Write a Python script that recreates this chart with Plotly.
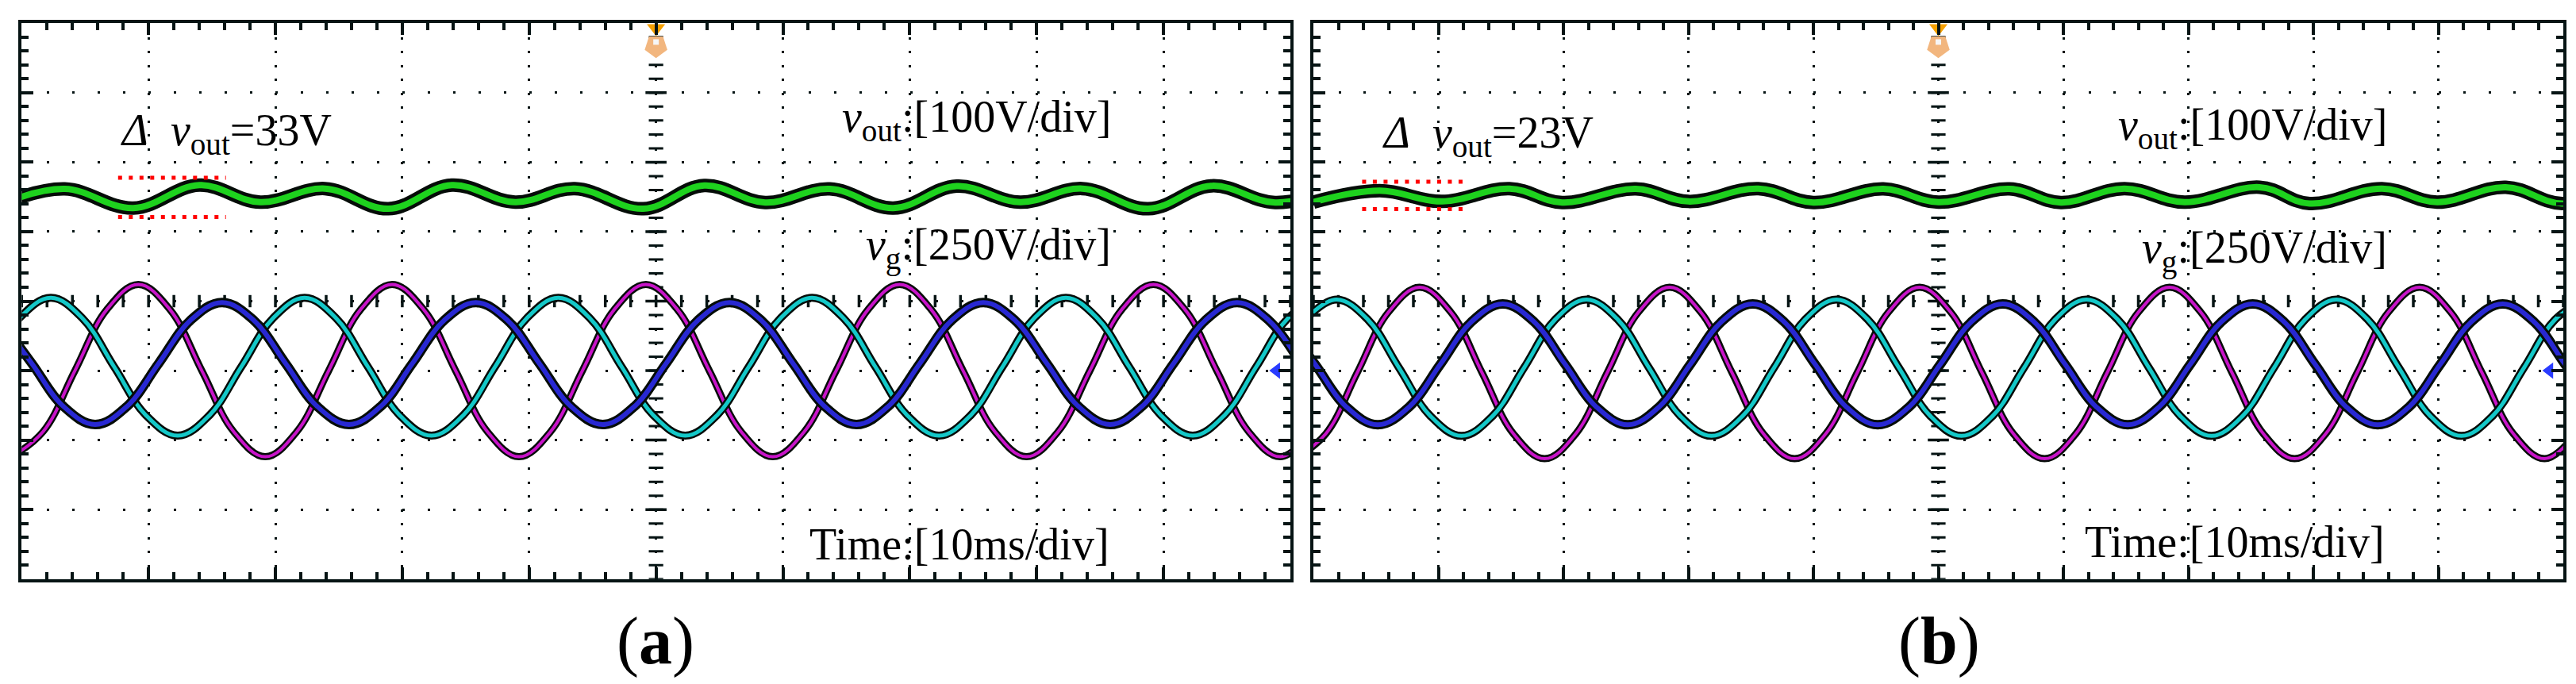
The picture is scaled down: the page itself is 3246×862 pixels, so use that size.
import numpy as np
import plotly.graph_objects as go

# scope settings
vout_scale = 100.0   # V/div
vg_scale = 250.0     # V/div
vout_level = 1.5     # screen div where the vout ripple sits
vg_ground = -1.0     # screen div of the vg channel marker (blue arrow)

# ---------------- (a) ----------------
# vout ripple [V] around its level, read at the peaks / valleys
t_vout_a = [-1.2, 3.4, 8.8, 14.0, 18.8, 23.9, 28.9, 33.9, 38.9, 43.6, 49.0,
            53.8, 58.6, 63.7, 68.7, 73.7, 78.7, 83.6, 88.8, 93.8, 98.8, 103.8]
vout_a = [-7.5, 11.5, -16.0, 17.0, -7.5, 12.0, -17.0, 17.0, -7.5, 12.0, -17.0,
          16.5, -8.0, 11.5, -16.0, 15.5, -7.5, 12.0, -17.0, 16.0, -8.0, 12.0]

# grid phase voltages [V] (magenta, cyan, blue)
t_mag_a = [-0.8, 1.7, 4.2, 6.7, 9.2, 11.7, 14.2, 16.7, 19.2, 21.7, 24.2, 26.7,
           29.2, 31.7, 34.2, 36.7, 39.2, 41.7, 44.2, 46.7, 49.2, 51.7, 54.2,
           56.7, 59.2, 61.7, 64.2, 66.7, 69.2, 71.7, 74.2, 76.7, 79.2, 81.7,
           84.2, 86.7, 89.2, 91.7, 94.2, 96.7, 99.2, 101.7]
vg_mag_a = [-310, -219, 0, 219, 310, 219, 0, -219,
            -310, -219, 0, 219, 310, 219, 0, -219,
            -310, -219, 0, 219, 310, 219, 0, -219,
            -310, -219, 0, 219, 310, 219, 0, -219,
            -310, -219, 0, 219, 310, 219, 0, -219,
            -310, -219]

t_cya_a = [-2.7, -0.2, 2.3, 4.8, 7.3, 9.8, 12.3, 14.8, 17.3, 19.8, 22.3, 24.8,
           27.3, 29.8, 32.3, 34.8, 37.3, 39.8, 42.3, 44.8, 47.3, 49.8, 52.3,
           54.8, 57.3, 59.8, 62.3, 64.8, 67.3, 69.8, 72.3, 74.8, 77.3, 79.8,
           82.3, 84.8, 87.3, 89.8, 92.3, 94.8, 97.3, 99.8, 102.3]
vg_cya_a = [13, 188, 262, 188, 13, -161, -234, -161,
            13, 188, 262, 188, 13, -161, -234, -161,
            13, 188, 262, 188, 13, -161, -234, -161,
            13, 188, 262, 188, 13, -161, -234, -161,
            13, 188, 262, 188, 13, -161, -234, -161,
            13, 188, 262]

t_blu_a = [-1.7, 0.8, 3.3, 5.8, 8.3, 10.8, 13.3, 15.8, 18.3, 20.8, 23.3, 25.8,
           28.3, 30.8, 33.3, 35.8, 38.3, 40.8, 43.3, 45.8, 48.3, 50.8, 53.3,
           55.8, 58.3, 60.8, 63.3, 65.8, 68.3, 70.8, 73.3, 75.8, 78.3, 80.8,
           83.3, 85.8, 88.3, 90.8, 93.3, 95.8, 98.3, 100.8]
vg_blu_a = [181, 26, -129, -194, -129, 26, 181, 245,
            181, 26, -129, -194, -129, 26, 181, 245,
            181, 26, -129, -194, -129, 26, 181, 245,
            181, 26, -129, -194, -129, 26, 181, 245,
            181, 26, -129, -194, -129, 26, 181, 245,
            181, 26]

# red dotted ripple markers: time span [ms] and levels [V around vout level]
delta_t_a = [7.6, 16.1]
delta_lv_a = [27.5, -29.0]

# ---------------- (b) ----------------
t_vout_b = [0.0, 5.3, 10.3, 15.7, 19.9, 25.8, 30.0, 35.6, 40.0, 45.6, 50.0,
            55.7, 59.8, 64.9, 69.7, 75.7, 79.7, 85.5, 89.9, 95.4, 99.9, 105.5]
vout_b = [-7.5, 9.0, -6.5, 12.0, -8.0, 11.5, -6.5, 12.0, -8.0, 11.5, -7.5,
          11.5, -8.0, 12.0, -7.5, 14.0, -9.5, 12.0, -7.5, 14.0, -9.5, 12.0]

t_mag_b = [-1.5, 1.0, 3.5, 6.0, 8.5, 11.0, 13.5, 16.0, 18.5, 21.0, 23.5, 26.0,
           28.5, 31.0, 33.5, 36.0, 38.5, 41.0, 43.5, 46.0, 48.5, 51.0, 53.5,
           56.0, 58.5, 61.0, 63.5, 66.0, 68.5, 71.0, 73.5, 76.0, 78.5, 81.0,
           83.5, 86.0, 88.5, 91.0, 93.5, 96.0, 98.5, 101.0]
vg_mag_b = [-317, -227, -8, 210, 300, 210, -8, -227,
            -317, -227, -8, 210, 300, 210, -8, -227,
            -317, -227, -8, 210, 300, 210, -8, -227,
            -317, -227, -8, 210, 300, 210, -8, -227,
            -317, -227, -8, 210, 300, 210, -8, -227,
            -317, -227]

t_cya_b = [-0.65, 1.85, 4.35, 6.85, 9.35, 11.85, 14.35, 16.85, 19.35, 21.85,
           24.35, 26.85, 29.35, 31.85, 34.35, 36.85, 39.35, 41.85, 44.35,
           46.85, 49.35, 51.85, 54.35, 56.85, 59.35, 61.85, 64.35, 66.85,
           69.35, 71.85, 74.35, 76.85, 79.35, 81.85, 84.35, 86.85, 89.35,
           91.85, 94.35, 96.85, 99.35, 101.85]
vg_cya_b = [184, 256, 184, 10, -163, -235, -163, 10,
            184, 256, 184, 10, -163, -235, -163, 10,
            184, 256, 184, 10, -163, -235, -163, 10,
            184, 256, 184, 10, -163, -235, -163, 10,
            184, 256, 184, 10, -163, -235, -163, 10,
            184, 256]

t_blu_b = [-2.35, 0.15, 2.65, 5.15, 7.65, 10.15, 12.65, 15.15, 17.65, 20.15,
           22.65, 25.15, 27.65, 30.15, 32.65, 35.15, 37.65, 40.15, 42.65,
           45.15, 47.65, 50.15, 52.65, 55.15, 57.65, 60.15, 62.65, 65.15,
           67.65, 70.15, 72.65, 75.15, 77.65, 80.15, 82.65, 85.15, 87.65,
           90.15, 92.65, 95.15, 97.65, 100.15, 102.65]
vg_blu_b = [176, 22, -131, -195, -131, 22, 176, 240,
            176, 22, -131, -195, -131, 22, 176, 240,
            176, 22, -131, -195, -131, 22, 176, 240,
            176, 22, -131, -195, -131, 22, 176, 240,
            176, 22, -131, -195, -131, 22, 176, 240,
            176, 22, -131]

delta_t_b = [3.9, 12.4]
delta_lv_b = [22.0, -17.5]

# labels
delta_text_a = "<i>Δ</i>\u00a0\u00a0<i>v</i><sub>out</sub>=33V"
delta_text_b = "<i>Δ</i>\u00a0\u00a0<i>v</i><sub>out</sub>=23V"
vout_text = "<i>v</i><sub>out</sub>:[100V/div]"
vg_text = "<i>v</i><sub>g</sub>:[250V/div]"
time_text = "Time:[10ms/div]"

frame = "#061414"
outline = "#050c08"
c_green = "#1ed21e"
c_mag = "#c814c8"
c_cya = "#14c8c8"
c_blu = "#2828d2"
font_name = "Liberation Serif"

fig = go.Figure()


def add_line(x, y, color, width, xa, ya, dash="solid", shape="spline"):
    fig.add_trace(go.Scatter(x=x, y=y, mode="lines", xaxis=xa, yaxis=ya,
                             line=dict(color=color, width=width, dash=dash,
                                       shape=shape, smoothing=1.1),
                             hoverinfo="skip", showlegend=False))


def add_marks(x, y, symbol, size, color, xa, ya, lw=0, angle=0, clip=True):
    fig.add_trace(go.Scatter(x=x, y=y, mode="markers", xaxis=xa, yaxis=ya,
                             marker=dict(symbol=symbol, size=size, color=color, angle=angle,
                                         line=dict(width=lw, color=color)),
                             cliponaxis=clip, hoverinfo="skip", showlegend=False))


def draw_panel(xa, ya, t_vout, vout, phases, delta_t, delta_lv):
    # centre cross of the graticule
    cx = np.arange(0, 100.01, 2.0)
    add_marks(cx, np.zeros_like(cx), "line-ns", 11, frame, xa, ya, lw=3.5)
    cy = np.arange(-4, 4.01, 0.2)
    add_marks(np.full_like(cy, 50.0), cy, "line-ew", 13, frame, xa, ya, lw=3)
    cy_major = np.arange(-3, 3.01, 1.0)
    add_marks(np.full_like(cy_major, 50.0), cy_major, "line-ew", 19, frame, xa, ya, lw=3.5)

    # vg phases, each with a dark outline like the scope trace
    for t, v, col, w_out, w_in in phases:
        y = vg_ground + np.array(v) / vg_scale
        add_line(t, y, outline, w_out, xa, ya)
        add_line(t, y, col, w_in, xa, ya)

    # vout
    y = vout_level + np.array(vout) / vout_scale
    add_line(t_vout, y, outline, 17, xa, ya)
    add_line(t_vout, y, c_green, 8, xa, ya)

    # ripple markers
    for lv in delta_lv:
        yy = vout_level + lv / vout_scale
        add_line(delta_t, [yy, yy], "#ff0000", 5, xa, ya, dash="5px,8.5px", shape="linear")

    # trigger marker on top, channel marker on the right
    add_marks([50], [3.93], "triangle-down", 20, "#f5a000", xa, ya, clip=False)
    add_marks([50], [3.67], "pentagon", 30, "#f2b67e", xa, ya, angle=180, clip=False)
    add_marks([50], [3.73], "square", 7, "#f6f6f6", xa, ya, clip=False)
    add_line([99.0, 100.0], [vg_ground, vg_ground], "#2a3cff", 3.5, xa, ya, shape="linear")
    add_marks([98.9], [vg_ground], "triangle-left", 18, "#2a3cff", xa, ya)


draw_panel("x", "y", t_vout_a, vout_a,
           [(t_mag_a, vg_mag_a, c_mag, 9, 4), (t_cya_a, vg_cya_a, c_cya, 10, 5),
            (t_blu_a, vg_blu_a, c_blu, 12, 6)],
           delta_t_a, delta_lv_a)
draw_panel("x2", "y2", t_vout_b, vout_b,
           [(t_mag_b, vg_mag_b, c_mag, 9, 4), (t_cya_b, vg_cya_b, c_cya, 10, 5),
            (t_blu_b, vg_blu_b, c_blu, 12, 6)],
           delta_t_b, delta_lv_b)


def axis(rng, dtick, minor_dtick, dash, domain, anchor):
    return dict(range=rng, domain=domain, anchor=anchor, dtick=dtick, tick0=0,
                showticklabels=False, ticks="inside", ticklen=15, tickwidth=3.5,
                tickcolor=frame, showline=True, linewidth=4, linecolor=frame,
                mirror="ticks", showgrid=True, gridcolor=frame, gridwidth=3,
                griddash=dash, zeroline=False, fixedrange=True,
                minor=dict(dtick=minor_dtick, tick0=0, ticks="inside", ticklen=9,
                           tickwidth=3.5, tickcolor=frame, showgrid=False))


W, H = 3246, 862
ydom = [(H - 721.7) / H, (H - 21.3) / H]
fig.update_layout(
    width=W, height=H, margin=dict(l=0, r=0, t=0, b=0),
    paper_bgcolor="white", plot_bgcolor="white",
    font=dict(family=font_name, color="black"),
    xaxis=axis([0, 100], 10, 2, "3px,14.5px", [19.3 / W, 1618 / W], "y"),
    yaxis=axis([-4, 4], 1, 0.2, "3px,29px", ydom, "x"),
    xaxis2=axis([0, 100], 10, 2, "3px,14.5px", [1647 / W, 3222 / W], "y2"),
    yaxis2=axis([-4, 4], 1, 0.2, "3px,28.5px", ydom, "x2"),
)

ann = []
for xr, yr, dtxt, dx, dy, vy, gy, ty, rx in [
        ("x", "y", delta_text_a, 7.7, 2.41, 2.61, 0.77, -3.50, 86.0),
        ("x2", "y2", delta_text_b, 5.4, 2.38, 2.50, 0.725, -3.47, 86.0)]:
    ann.append(dict(x=dx, y=dy, xref=xr, yref=yr, text=dtxt, xanchor="left", yanchor="middle"))
    ann.append(dict(x=rx, y=vy, xref=xr, yref=yr, text=vout_text, xanchor="right", yanchor="middle"))
    ann.append(dict(x=rx, y=gy, xref=xr, yref=yr, text=vg_text, xanchor="right", yanchor="middle"))
    ann.append(dict(x=rx - 0.15, y=ty, xref=xr, yref=yr, text=time_text, xanchor="right", yanchor="middle"))
for a in ann:
    a.update(showarrow=False, font=dict(family=font_name, size=56, color="black"))
    fig.add_annotation(**a)

for px_c, lab in [(818, "a"), (2435, "b")]:
    fig.add_annotation(x=px_c / W, y=(H - 800) / H, xref="paper", yref="paper",
                       text="(<b>%s</b>)" % lab, showarrow=False,
                       xanchor="center", yanchor="middle",
                       font=dict(family=font_name, size=84, color="black"))

fig.write_html("out.html", config={"displayModeBar": False})
